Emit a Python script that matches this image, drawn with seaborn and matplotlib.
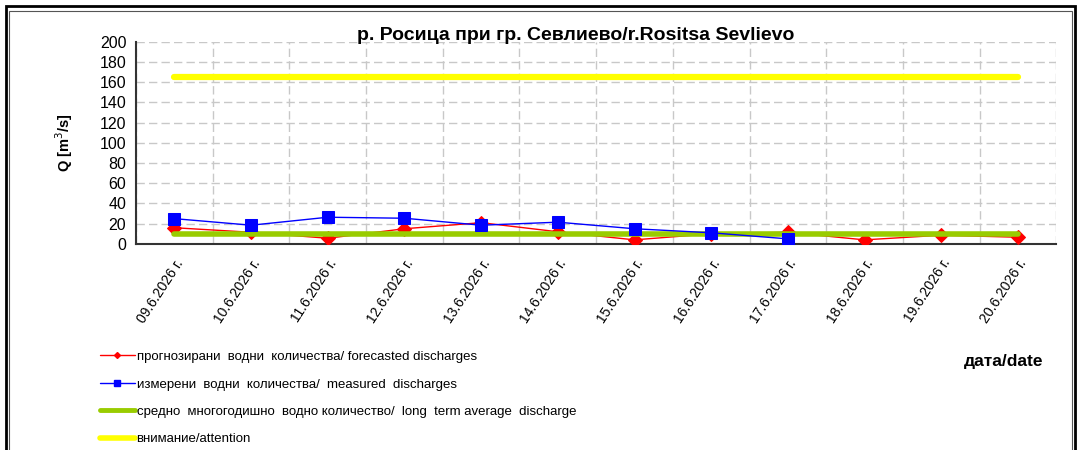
import matplotlib
matplotlib.use("Agg")
import numpy as np
import pandas as pd
import seaborn as sns
import matplotlib.pyplot as plt
from matplotlib.patches import Rectangle
from matplotlib.lines import Line2D

# values
dates = ["09.6.2026 г.", "10.6.2026 г.", "11.6.2026 г.", "12.6.2026 г.",
         "13.6.2026 г.", "14.6.2026 г.", "15.6.2026 г.", "16.6.2026 г.",
         "17.6.2026 г.", "18.6.2026 г.", "19.6.2026 г.", "20.6.2026 г."]
forecasted = [16, 11.5, 5.6, 15, 21, 12, 4, 10, 11.5, 4, 8.6, 6.6]
measured = [25, 18.5, 26.4, 25.4, 18.5, 21.5, 15, 11, 5, np.nan, np.nan, np.nan]
long_term_avg = [9.6] * 12
attention = [165] * 12

lbl_fc = "прогнозирани  водни  количества/ forecasted discharges"
lbl_ms = "измерени  водни  количества/  measured  discharges"
lbl_avg = "средно  многогодишно  водно количество/  long  term average  discharge"
lbl_att = "внимание/attention"

df = pd.DataFrame({
    "pos": np.arange(len(dates)),
    "date": dates,
    "forecasted": forecasted,
    "measured": measured,
    "avg": long_term_avg,
    "attention": attention,
})

sns.set_style("white")
plt.rcParams["font.family"] = ["Liberation Sans", "DejaVu Sans"]
plt.rcParams["text.color"] = "black"
plt.rcParams["axes.labelcolor"] = "black"
plt.rcParams["xtick.color"] = "black"
plt.rcParams["ytick.color"] = "black"

fig = plt.figure(figsize=(10.8, 4.5), dpi=100)
ax = fig.add_axes([0.126, 0.458, 0.852, 0.449])

sns.lineplot(data=df, x="pos", y="attention", ax=ax, color="#ffff00", linewidth=4.5,
             solid_capstyle="round")
sns.lineplot(data=df, x="pos", y="avg", ax=ax, color="#99cc00", linewidth=4,
             solid_capstyle="round", zorder=4)
sns.lineplot(data=df, x="pos", y="forecasted", ax=ax, color="#ff0000", linewidth=1,
             marker="D", markersize=7, markeredgecolor="#ff0000", zorder=3)
sns.lineplot(data=df, x="pos", y="measured", ax=ax, color="#0000ff", linewidth=1,
             marker="s", markersize=8.5, markeredgecolor="#0000ff", zorder=5)

ax.set_xlim(-0.5, len(dates) - 0.5)
ax.set_ylim(0, 200)
ax.set_yticks(range(0, 201, 20))
ax.set_xticks(np.arange(-0.5, len(dates), 1.0))
ax.set_xticklabels([])
ax.set_xticks(df["pos"], minor=True)
ax.set_xticklabels(dates, minor=True, rotation=57, ha="right", rotation_mode="anchor",
                   fontsize=10)
ax.tick_params(axis="x", which="minor", length=0, pad=9)
ax.tick_params(axis="x", which="major", length=5, width=1, color="#333333")
ax.tick_params(axis="y", length=5, width=1, color="#333333", labelsize=11.5, pad=2)
ax.grid(True, which="major", linestyle=(0, (6, 3)), color="#c8c8c8", linewidth=1)
for s in ["top", "right"]:
    ax.spines[s].set_visible(False)
for s in ["left", "bottom"]:
    ax.spines[s].set_color("#333333")
    ax.spines[s].set_linewidth(1.5)

ax.set_xlabel("")
ax.set_ylabel("Q [m$^3$/s]", fontsize=10.5, fontweight="bold", labelpad=18)
ax.set_title("р. Росица при гр. Севлиево/r.Rositsa Sevlievo", fontsize=14,
             fontweight="bold", x=0.478, pad=1)

handles = [
    Line2D([], [], color="#ff0000", linewidth=1, marker="D", markersize=3),
    Line2D([], [], color="#0000ff", linewidth=1, marker="s", markersize=5),
    Line2D([], [], color="#99cc00", linewidth=3.5),
    Line2D([], [], color="#ffff00", linewidth=4),
]
fig.legend(handles, [lbl_fc, lbl_ms, lbl_avg, lbl_att], loc="upper left",
           bbox_to_anchor=(0.088, 0.232), frameon=False, fontsize=9.5,
           handlelength=2.6, handletextpad=0.15, labelspacing=1.15, borderaxespad=0)
fig.text(0.929, 0.196, "дата/date", fontsize=12.5, fontweight="bold",
         ha="center", va="center")

# outer frame
fig.patches.append(Rectangle((6 / 1080, -0.1), 1069 / 1080, 0.1 + 444 / 450,
                             transform=fig.transFigure, fill=False,
                             edgecolor="black", linewidth=2))
fig.patches.append(Rectangle((9 / 1080, -0.1), 1063 / 1080, 0.1 + 439 / 450,
                             transform=fig.transFigure, fill=False,
                             edgecolor="#555555", linewidth=0.8))

fig.savefig("out.png", dpi=100)
